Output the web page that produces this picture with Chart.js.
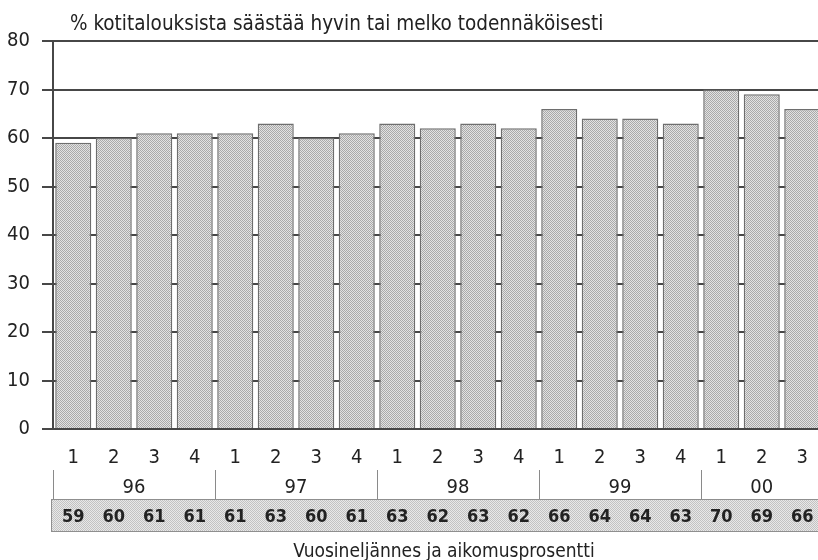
<!DOCTYPE html>
<html>
<head>
<meta charset="utf-8">
<script src="https://cdn.jsdelivr.net/npm/chart.js@4/dist/chart.umd.min.js"></script>
<style>
  html, body { margin: 0; padding: 0; background: #fff; overflow: hidden; }
  #wrap { width: 818px; height: 560px; overflow: hidden; position: relative; }
  #wrap canvas { position: absolute; left: 0; top: 0; }
</style>
</head>
<body>
<div id="wrap"><canvas id="c" width="840" height="560"></canvas></div>
<script>
// Share of households saving very or fairly likely, by quarter 1996–2000
const chartTitle = '% kotitalouksista säästää hyvin tai melko todennäköisesti';
const axisTitle = 'Vuosineljännes ja aikomusprosentti';
const quarterLabels = ['1','2','3','4','1','2','3','4','1','2','3','4','1','2','3','4','1','2','3'];
const yearLabels = ['96','97','98','99','00'];
const quartersInYear = [4, 4, 4, 4, 3];
const savingPct = [59, 60, 61, 61, 61, 63, 60, 61, 63, 62, 63, 62, 66, 64, 64, 63, 70, 69, 66];
const yMin = 0, yMax = 80, yStep = 10;

const FONT = "'Liberation Sans Narrow', 'DejaVu Sans Condensed', 'Arial Narrow', sans-serif";

// small halftone-like fill
function dotPattern(a, b) {
  const p = document.createElement('canvas');
  p.width = 2; p.height = 2;
  const g = p.getContext('2d');
  g.fillStyle = b; g.fillRect(0, 0, 2, 2);
  g.fillStyle = a; g.fillRect(0, 0, 1, 1); g.fillRect(1, 1, 1, 1);
  return g.createPattern(p, 'repeat');
}
const ctx = document.getElementById('c').getContext('2d');
const barFill = dotPattern('#a9a9a9', '#e2e2e2');
const tableFill = dotPattern('#c2c2c2', '#e8e8e8');

// title, year row and the value table under the axis
const annotations = {
  id: 'annotations',
  afterDraw(chart) {
    const c = chart.ctx;
    const x = chart.scales.x;
    c.save();

    c.fillStyle = '#222';
    c.font = '20.5px ' + FONT;
    c.textAlign = 'left';
    c.textBaseline = 'alphabetic';
    c.fillText(chartTitle, 70, 29.5);

    // year groups with separators
    const half = (x.getPixelForValue(1) - x.getPixelForValue(0)) / 2;
    let idx = 0;
    c.strokeStyle = '#8a8a8a';
    c.lineWidth = 1;
    yearLabels.forEach((yr, g) => {
      const n = quartersInYear[g];
      const left = x.getPixelForValue(idx) - half;
      const right = x.getPixelForValue(idx + n - 1) + half;
      c.beginPath();
      c.moveTo(Math.round(left) + 0.5, 470);
      c.lineTo(Math.round(left) + 0.5, 499);
      c.stroke();
      c.textAlign = 'center';
      c.font = '20px ' + FONT;
      c.fillText(yr, (left + right) / 2, 493);
      idx += n;
    });

    // value table
    c.fillStyle = tableFill;
    c.fillRect(51, 499, chart.width - 51 + 5, 33);
    c.strokeStyle = '#8f8f8f';
    c.strokeRect(51.5, 499.5, chart.width, 32);
    c.fillStyle = '#222';
    c.font = 'bold 18px ' + FONT;
    c.textAlign = 'center';
    savingPct.forEach((v, i) => {
      c.fillText(String(v), x.getPixelForValue(i), 521.5);
    });

    c.font = '19px ' + FONT;
    c.fillText(axisTitle, 444, 557);
    c.restore();
  }
};

new Chart(ctx, {
  type: 'bar',
  data: {
    labels: quarterLabels,
    datasets: [{
      data: savingPct,
      backgroundColor: barFill,
      borderColor: '#6e6e6e',
      borderWidth: 1.5,
      barPercentage: 0.89,
      categoryPercentage: 1
    }]
  },
  options: {
    responsive: false,
    animation: false,
    devicePixelRatio: 1,
    layout: { padding: { top: 41, right: 17.5, left: 0, bottom: 0 } },
    plugins: { legend: { display: false }, tooltip: { enabled: false }, title: { display: false } },
    scales: {
      x: {
        grid: { display: false },
        border: { display: false },
        ticks: { color: '#222', font: { family: FONT, size: 20 }, padding: 9, maxRotation: 0, autoSkip: false },
        afterFit(s) { s.height = 131; }
      },
      y: {
        min: yMin, max: yMax,
        ticks: { stepSize: yStep, color: '#222', font: { family: FONT, size: 20 }, padding: 12, crossAlign: 'near' },
        grid: { color: '#474747', lineWidth: 2, tickLength: 11, drawTicks: true },
        border: { display: true, color: '#474747', width: 2 },
        afterFit(s) { s.width = 53; }
      }
    }
  },
  plugins: [annotations]
});
</script>
</body>
</html>
